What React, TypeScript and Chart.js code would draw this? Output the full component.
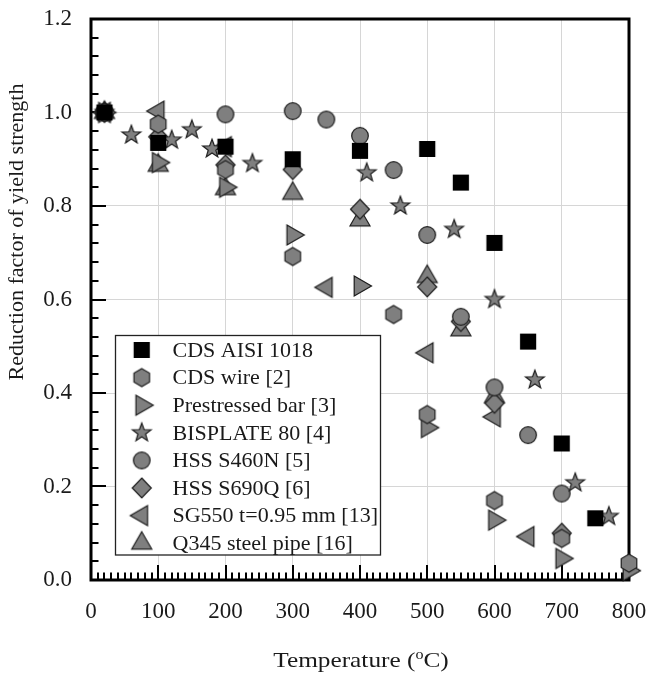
import React, { useEffect, useRef } from 'react';
import { Chart, registerables } from 'chart.js';

Chart.register(...registerables);

// ---------- Data ----------
const seriesNames = [
  'CDS AISI 1018',
  'CDS wire [2]',
  'Prestressed bar [3]',
  'BISPLATE 80 [4]',
  'HSS S460N [5]',
  'HSS S690Q [6]',
  'SG550 t=0.95 mm [13]',
  'Q345 steel pipe [16]',
];

const cdsAisiTemps = [20, 100, 200, 300, 400, 500, 550, 600, 650, 700, 750];
const cdsAisiFactors = [1.0, 0.935, 0.927, 0.9, 0.918, 0.922, 0.85, 0.721, 0.51, 0.292, 0.132];

const cdsWireTemps = [20, 100, 200, 300, 450, 500, 600, 700, 800];
const cdsWireFactors = [1.0, 0.975, 0.878, 0.692, 0.568, 0.354, 0.17, 0.089, 0.036];

const prestressedTemps = [20, 100, 200, 300, 400, 500, 600, 700, 800];
const prestressedFactors = [1.0, 0.893, 0.84, 0.738, 0.629, 0.326, 0.128, 0.046, 0.02];

const bisplateTemps = [20, 60, 120, 150, 180, 240, 410, 460, 540, 600, 660, 720, 770];
const bisplateFactors = [1.0, 0.952, 0.941, 0.963, 0.922, 0.891, 0.871, 0.8, 0.75, 0.6, 0.428, 0.208, 0.136];

const s460nTemps = [20, 200, 300, 350, 400, 450, 500, 550, 600, 650, 700];
const s460nFactors = [1.0, 0.996, 1.003, 0.985, 0.95, 0.877, 0.738, 0.563, 0.412, 0.31, 0.185];

const s690qTemps = [20, 100, 200, 300, 400, 500, 550, 600, 700];
const s690qFactors = [1.0, 0.948, 0.888, 0.878, 0.793, 0.627, 0.553, 0.378, 0.1];

const sg550Temps = [20, 100, 200, 350, 500, 600, 650];
const sg550Factors = [1.0, 1.003, 0.927, 0.626, 0.486, 0.349, 0.093];

const q345Temps = [20, 100, 200, 300, 400, 500, 550, 600];
const q345Factors = [1.0, 0.887, 0.837, 0.827, 0.77, 0.649, 0.535, 0.392];

const xTickValues = [0, 100, 200, 300, 400, 500, 600, 700, 800];
const yTickValues = [0, 0.2, 0.4, 0.6, 0.8, 1.0, 1.2];

// ---------- Styling ----------
const SERIF = '"Liberation Serif", "Times New Roman", Times, serif';
const GRAY = '#7f7f7f';
const EDGE = '#1c1c1c';

type Shape = 'square' | 'hexagon' | 'triRight' | 'star' | 'circle' | 'diamond' | 'triLeft' | 'triUp';

function makeMarker(shape: Shape): HTMLCanvasElement {
  const s = 30;
  const c = document.createElement('canvas');
  c.width = s;
  c.height = s;
  const g = c.getContext('2d')!;
  g.translate(s / 2, s / 2);
  g.beginPath();
  if (shape === 'square') {
    g.rect(-7.5, -7.5, 15, 15);
  } else if (shape === 'hexagon') {
    const r = 9;
    for (let i = 0; i < 6; i++) {
      const a = (-90 + 60 * i) * Math.PI / 180;
      const px = r * Math.cos(a), py = r * Math.sin(a);
      if (i === 0) g.moveTo(px, py); else g.lineTo(px, py);
    }
  } else if (shape === 'triRight') {
    g.moveTo(-5.8, -10); g.lineTo(11.5, 0); g.lineTo(-5.8, 10);
  } else if (shape === 'triLeft') {
    g.moveTo(5.8, -10); g.lineTo(-11.5, 0); g.lineTo(5.8, 10);
  } else if (shape === 'triUp') {
    g.moveTo(0, -11.5); g.lineTo(10, 5.8); g.lineTo(-10, 5.8);
  } else if (shape === 'star') {
    const ro = 9.8, ri = 4.0;
    for (let i = 0; i < 10; i++) {
      const a = (-90 + 36 * i) * Math.PI / 180;
      const r = i % 2 === 0 ? ro : ri;
      const px = r * Math.cos(a), py = r * Math.sin(a);
      if (i === 0) g.moveTo(px, py); else g.lineTo(px, py);
    }
  } else if (shape === 'circle') {
    g.arc(0, 0, 8.3, 0, Math.PI * 2);
  } else if (shape === 'diamond') {
    g.moveTo(0, -10); g.lineTo(9.5, 0); g.lineTo(0, 10); g.lineTo(-9.5, 0);
  }
  g.closePath();
  g.fillStyle = shape === 'square' ? '#000000' : GRAY;
  g.fill();
  g.lineWidth = 1.2;
  g.strokeStyle = shape === 'square' ? '#000000' : EDGE;
  g.stroke();
  return c;
}

const seriesShapes: Shape[] = ['square', 'hexagon', 'triRight', 'star', 'circle', 'diamond', 'triLeft', 'triUp'];

export default function App() {
  const canvasRef = useRef<HTMLCanvasElement | null>(null);

  useEffect(() => {
    const canvas = canvasRef.current;
    if (!canvas) return;

    const markers = seriesShapes.map(makeMarker);
    const temps = [cdsAisiTemps, cdsWireTemps, prestressedTemps, bisplateTemps, s460nTemps, s690qTemps, sg550Temps, q345Temps];
    const factors = [cdsAisiFactors, cdsWireFactors, prestressedFactors, bisplateFactors, s460nFactors, s690qFactors, sg550Factors, q345Factors];

    const datasets = seriesNames.map((name, i) => ({
      label: name,
      data: temps[i].map((t, j) => ({ x: t, y: factors[i][j] })),
      pointStyle: markers[i] as any,
      pointRadius: 9,
      showLine: false,
      clip: false as any,
    }));

    const decor = {
      id: 'decor',
      beforeDatasetsDraw(chart: any) {
        const { ctx, chartArea: a, scales } = chart;
        const xs = scales.x, ys = scales.y;
        ctx.save();
        // frame
        ctx.strokeStyle = '#000';
        ctx.lineWidth = 3;
        ctx.strokeRect(a.left, a.top, a.right - a.left, a.bottom - a.top);
        // inward ticks
        ctx.lineWidth = 2;
        ctx.beginPath();
        for (let v = 0; v <= 800; v += 10) {
          const px = Math.round(xs.getPixelForValue(v));
          const major = v % 100 === 0;
          ctx.moveTo(px, a.bottom);
          ctx.lineTo(px, a.bottom - (major ? 15 : 7.5));
        }
        for (let k = 0; k <= 30; k++) {
          const v = k * 0.04;
          const py = Math.round(ys.getPixelForValue(v));
          const major = k % 5 === 0;
          ctx.moveTo(a.left, py);
          ctx.lineTo(a.left + (major ? 15 : 7.5), py);
        }
        ctx.stroke();
        ctx.restore();
      },
      afterDraw(chart: any) {
        const { ctx } = chart;
        ctx.save();
        // legend box
        const bx = 115.5, by = 335.5, bw = 265, bh = 219.5;
        ctx.fillStyle = '#ffffff';
        ctx.fillRect(bx, by, bw, bh);
        ctx.strokeStyle = '#222';
        ctx.lineWidth = 1.3;
        ctx.strokeRect(bx, by, bw, bh);
        ctx.font = `22px ${SERIF}`;
        ctx.fillStyle = '#1a1a1a';
        ctx.textAlign = 'left';
        ctx.textBaseline = 'middle';
        seriesNames.forEach((name, i) => {
          const cy = 350 + i * 27.6;
          const m = markers[i];
          ctx.drawImage(m, 141.7 - m.width / 2, cy - m.height / 2);
          ctx.fillText(name, 172.5, cy + 1);
        });
        // y title
        ctx.save();
        ctx.translate(17, 232);
        ctx.rotate(-Math.PI / 2);
        ctx.textAlign = 'center';
        ctx.textBaseline = 'middle';
        ctx.font = `22px ${SERIF}`;
        ctx.fillText('Reduction factor of yield strength', 0, 0);
        ctx.restore();
        // x title with superscript o
        ctx.save();
        const sx = 1.15;
        ctx.scale(sx, 1);
        ctx.textBaseline = 'alphabetic';
        ctx.textAlign = 'left';
        const big = `22px ${SERIF}`, small = `14px ${SERIF}`;
        ctx.font = big;
        const p1 = 'Temperature (', p3 = 'C)';
        const w1 = ctx.measureText(p1).width, w3 = ctx.measureText(p3).width;
        ctx.font = small;
        const w2 = ctx.measureText('o').width;
        const total = w1 + w2 + w3;
        const x0 = 361 / sx - total / 2;
        const base = 667;
        ctx.font = big;
        ctx.fillText(p1, x0, base);
        ctx.font = small;
        ctx.fillText('o', x0 + w1, base - 8);
        ctx.font = big;
        ctx.fillText(p3, x0 + w1 + w2, base);
        ctx.restore();
        ctx.restore();
      },
    };

    const chart = new Chart(canvas, {
      type: 'scatter',
      data: { datasets: datasets as any },
      options: {
        responsive: false,
        animation: false,
        events: [],
        layout: { padding: { top: 19, right: 20, left: 0, bottom: 0 } },
        plugins: { legend: { display: false }, tooltip: { enabled: false } },
        scales: {
          x: {
            type: 'linear',
            min: 0,
            max: 800,
            afterFit: (s: any) => { s.height = 96; s.paddingLeft = 0; s.paddingRight = 0; },
            afterBuildTicks: (s: any) => { s.ticks = xTickValues.map((v) => ({ value: v })); },
            ticks: {
              color: '#1a1a1a',
              font: { family: SERIF, size: 23 },
              padding: 18,
              maxRotation: 0,
              callback: (v: any) => String(v),
            },
            grid: { color: '#d6d6d6', lineWidth: 1, drawTicks: false },
            border: { display: false },
          },
          y: {
            type: 'linear',
            min: 0,
            max: 1.2,
            afterFit: (s: any) => { s.width = 91; s.paddingTop = 0; s.paddingBottom = 0; },
            afterBuildTicks: (s: any) => { s.ticks = yTickValues.map((v) => ({ value: v })); },
            ticks: {
              color: '#1a1a1a',
              font: { family: SERIF, size: 23 },
              padding: 19,
              callback: (v: any) => Number(v).toFixed(1),
            },
            grid: { color: '#d6d6d6', lineWidth: 1, drawTicks: false },
            border: { display: false },
          },
        },
      },
      plugins: [decor],
    });

    return () => chart.destroy();
  }, []);

  return (
    <div style={{ position: 'fixed', left: 0, top: 0, width: 649, height: 676, background: '#fff' }}>
      <canvas ref={canvasRef} width={649} height={676} style={{ display: 'block' }} />
    </div>
  );
}
